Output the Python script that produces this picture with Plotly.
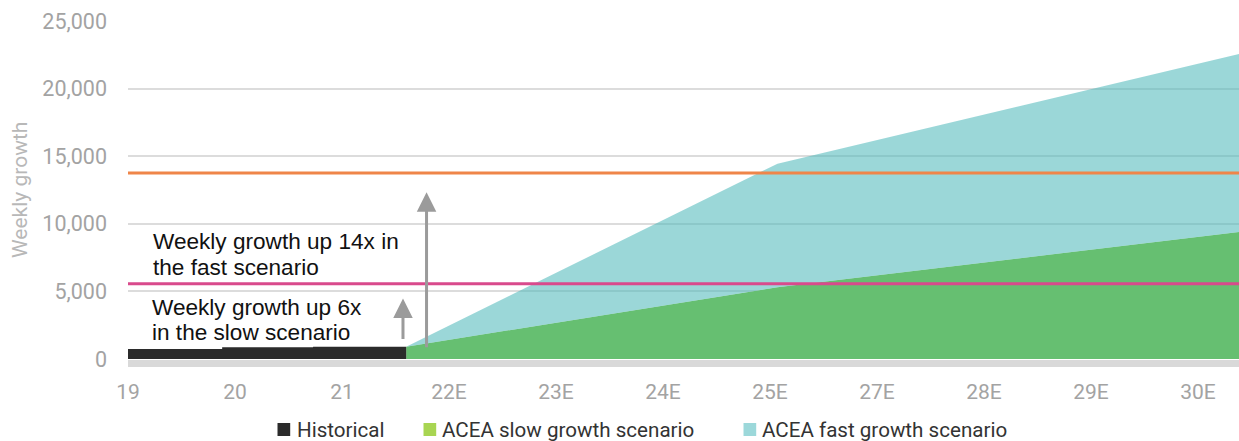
import plotly.graph_objects as go

# Category labels along the x axis (2026 is not shown)
categories = ["19", "20", "21", "22E", "23E", "24E", "25E", "27E", "28E", "29E", "30E"]

# Historical weekly growth (step series, x in category-index units)
hist_x = [0, 0.88, 1.73, 2.6]
hist_y = [740, 860, 910, 910]

# ACEA scenarios
slow_x = [2.6, 6.07, 10.383]
slow_y = [910, 5300, 9400]
fast_x = [2.6, 6.07, 10.383]
fast_y = [910, 14450, 22550]

# Reference levels
fast_level = 13750
slow_level = 5560

# Arrows: (x, start value, end value)
slow_arrow = (2.57, 1360, 4470)
fast_arrow = (2.79, 750, 12330)

X_MAX = 10.383
Y_MAX = 25000

GRID = "#dcdcdc"
TICK_GRAY = "#a3a3a3"
HIST_COLOR = "#2b2b2b"
SLOW_FILL = "#66bf71"
FAST_FILL = "rgba(80,185,187,0.57)"
SLOW_LEGEND = "#a8d552"
FAST_LEGEND = "#9cd8da"
ORANGE = "#ef8549"
PINK = "#d94a8c"
ARROW_GRAY = "#9b9b9b"

fig = go.Figure()

fig.add_trace(go.Scatter(
    x=slow_x, y=slow_y, mode="lines", line=dict(width=0, color=SLOW_FILL),
    fill="tozeroy", fillcolor=SLOW_FILL, showlegend=False, hoverinfo="skip"))
fig.add_trace(go.Scatter(
    x=fast_x, y=fast_y, mode="lines", line=dict(width=0, color=FAST_LEGEND),
    fill="tonexty", fillcolor=FAST_FILL, showlegend=False, hoverinfo="skip"))
fig.add_trace(go.Scatter(
    x=hist_x, y=hist_y, mode="lines", line=dict(width=0, color=HIST_COLOR, shape="hv"),
    fill="tozeroy", fillcolor=HIST_COLOR, showlegend=False, hoverinfo="skip"))

# Gray base band under the zero line
fig.add_shape(type="rect", xref="paper", x0=0, x1=1, yref="paper", ysizemode="pixel",
              yanchor=0, y0=-1, y1=-8, fillcolor="#d9d9d9", line=dict(width=0), layer="above")

# Scenario reference levels
for level, color in [(fast_level, ORANGE), (slow_level, PINK)]:
    fig.add_shape(type="line", xref="x domain", x0=0, x1=1, yref="y", y0=level, y1=level,
                  line=dict(color=color, width=3), layer="above")

# Growth arrows
for ax_x, y0, y1 in [slow_arrow, fast_arrow]:
    fig.add_annotation(x=ax_x, y=y1, ax=ax_x, ay=y0, xref="x", yref="y", axref="x", ayref="y",
                       showarrow=True, arrowhead=2, arrowsize=1.3, arrowwidth=3,
                       arrowcolor=ARROW_GRAY, text="")

# Callout text
callouts = [
    ("Weekly growth up 14x in", 151, 241),
    ("the fast scenario", 151, 267),
    ("Weekly growth up 6x", 150, 307),
    ("in the slow scenario", 150, 332),
]
for txt, px, py in callouts:
    fig.add_annotation(x=(px - 128) / 107, y=(359 - py) * Y_MAX / 338, xref="x", yref="y",
                       text=txt, showarrow=False, xanchor="left", yanchor="middle",
                       font=dict(family="Liberation Sans, Arial", size=22.6, color="#111111"))

# Y axis title
fig.add_annotation(x=(20 - 128) / 1111, y=0.5, xref="paper", yref="paper",
                   text="Weekly growth", textangle=-90, showarrow=False,
                   xanchor="center", yanchor="middle",
                   font=dict(family="Roboto", size=21, color="#b8b8b8"))

# Legend built from swatches and labels
legend_items = [
    ("Historical", HIST_COLOR, 277.5, 295),
    ("ACEA slow growth scenario", SLOW_LEGEND, 423.5, 440),
    ("ACEA fast growth scenario", FAST_LEGEND, 743.5, 760),
]
LEG_Y = 429.5
for label, color, sq_x, tx_x in legend_items:
    fig.add_shape(type="rect", xref="paper", yref="paper",
                  x0=(sq_x - 128) / 1111, x1=(sq_x + 12.7 - 128) / 1111,
                  y0=(359 - LEG_Y - 6.5) / 338, y1=(359 - LEG_Y + 6.5) / 338,
                  fillcolor=color, line=dict(width=0))
    fig.add_annotation(x=(tx_x - 128) / 1111, y=(359 - LEG_Y) / 338, xref="paper", yref="paper",
                       text=label, showarrow=False, xanchor="left", yanchor="middle",
                       font=dict(family="Roboto", size=20.6, color="#333333"))

fig.update_layout(
    width=1239, height=441,
    margin=dict(l=128, r=0, t=21, b=82),
    paper_bgcolor="white", plot_bgcolor="white",
    showlegend=False,
    font=dict(family="Roboto", size=20, color=TICK_GRAY),
)
fig.update_xaxes(range=[0, X_MAX], tickmode="array", tickvals=list(range(len(categories))),
                 ticktext=categories, showgrid=False, zeroline=False, showline=False,
                 ticklabelstandoff=18, tickfont=dict(size=21, color=TICK_GRAY))
fig.update_yaxes(range=[0, Y_MAX], tickmode="array", tickvals=[0, 5000, 10000, 15000, 20000, 25000],
                 ticktext=["0", "5,000", "10,000", "15,000", "20,000", "25,000"],
                 showgrid=True, gridcolor=GRID, gridwidth=2, zeroline=False, showline=False,
                 ticklabelstandoff=20, tickfont=dict(size=21.5, color=TICK_GRAY))

fig.write_html("out.html")
